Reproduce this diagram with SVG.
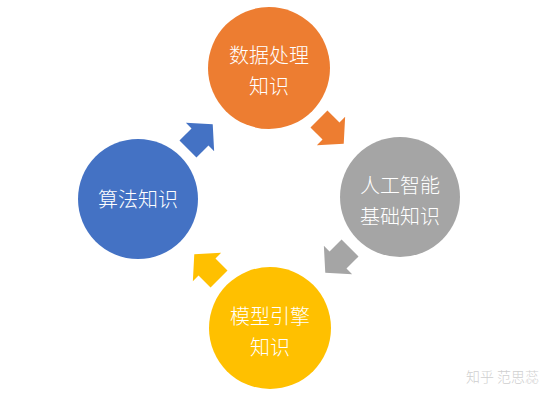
<svg xmlns="http://www.w3.org/2000/svg" width="560" height="400" viewBox="0 0 560 400">
<defs>
<style>
.lbl{font-family:"Noto Sans CJK SC","Liberation Sans",sans-serif;font-size:20px;font-weight:300;fill:#ffffff;text-anchor:middle;dominant-baseline:central}
.wm{font-family:"Noto Sans CJK SC","Liberation Sans",sans-serif;font-size:14px;font-weight:300;fill:#cfcfcf;dominant-baseline:central}
</style>
<path id="arr" d="M -17,-12 L 0,-12 L 0,-20 L 18,0 L 0,20 L 0,12 L -17,12 Z"/>
</defs>
<rect width="560" height="400" fill="#ffffff"/>
<g id="connectors">
<use href="#arr" fill="#4472C4" transform="translate(200,137) rotate(-45)"/>
<use href="#arr" fill="#ED7D31" transform="translate(331,131) rotate(45)"/>
<use href="#arr" fill="#A5A5A5" transform="translate(338,260) rotate(135)"/>
<use href="#arr" fill="#FFC000" transform="translate(207,267) rotate(-135)"/>
</g>
<g id="node-data">
<circle cx="269" cy="68" r="61" fill="#ED7D31"/>
<text class="lbl" x="269" y="54">数据处理</text>
<text class="lbl" x="269" y="85">知识</text>
</g>
<g id="node-ai">
<circle cx="400" cy="197" r="60" fill="#A5A5A5"/>
<text class="lbl" x="400" y="184">人工智能</text>
<text class="lbl" x="400" y="215">基础知识</text>
</g>
<g id="node-algo">
<circle cx="138" cy="199" r="60" fill="#4472C4"/>
<text class="lbl" x="138" y="198">算法知识</text>
</g>
<g id="node-model">
<circle cx="270" cy="328" r="61" fill="#FFC000"/>
<text class="lbl" x="270" y="315">模型引擎</text>
<text class="lbl" x="270" y="346">知识</text>
</g>
<text class="wm" x="466" y="376">知乎 范思蕊</text>
</svg>
